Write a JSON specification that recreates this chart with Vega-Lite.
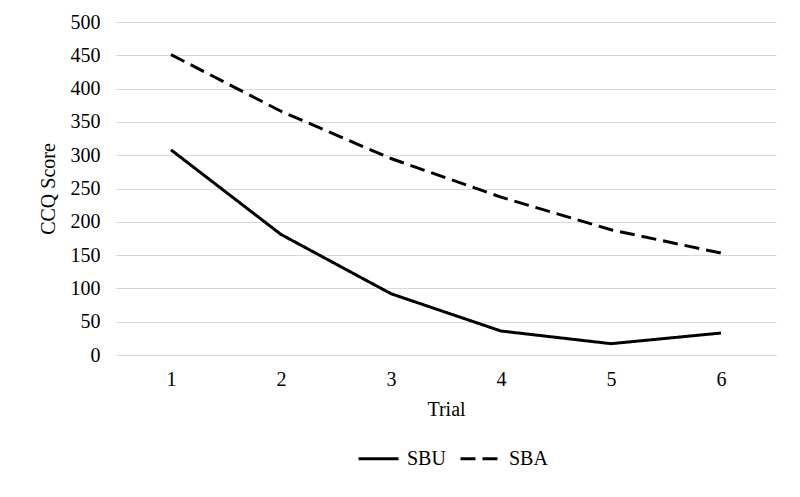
{
  "$schema": "https://vega.github.io/schema/vega-lite/v6.json",
  "width": 660,
  "height": 333,
  "autosize": {"type": "none"},
  "padding": {"left": 116, "top": 22, "right": 24, "bottom": 142},
  "background": "white",
  "data": {
    "values": [
      {"trial": "1", "series": "SBU", "score": 308},
      {"trial": "2", "series": "SBU", "score": 181},
      {"trial": "3", "series": "SBU", "score": 92},
      {"trial": "4", "series": "SBU", "score": 36},
      {"trial": "5", "series": "SBU", "score": 17},
      {"trial": "6", "series": "SBU", "score": 33},
      {"trial": "1", "series": "SBA", "score": 451},
      {"trial": "2", "series": "SBA", "score": 366},
      {"trial": "3", "series": "SBA", "score": 295},
      {"trial": "4", "series": "SBA", "score": 237},
      {"trial": "5", "series": "SBA", "score": 188},
      {"trial": "6", "series": "SBA", "score": 153}
    ]
  },
  "mark": {"type": "line", "color": "black", "strokeWidth": 3},
  "encoding": {
    "x": {
      "field": "trial",
      "type": "ordinal",
      "title": "Trial",
      "scale": {"type": "point", "padding": 0.5},
      "axis": {
        "labelAngle": 0,
        "ticks": false,
        "grid": false,
        "domainColor": "#d9d9d9",
        "domainWidth": 1,
        "labelPadding": 14,
        "titlePadding": 10
      }
    },
    "y": {
      "field": "score",
      "type": "quantitative",
      "title": "CCQ Score",
      "scale": {"domain": [0, 500], "nice": false},
      "axis": {
        "values": [0, 50, 100, 150, 200, 250, 300, 350, 400, 450, 500],
        "ticks": false,
        "domain": false,
        "gridColor": "#d9d9d9",
        "gridWidth": 1,
        "labelPadding": 16,
        "titlePadding": 12
      }
    },
    "strokeDash": {
      "field": "series",
      "type": "nominal",
      "scale": {"domain": ["SBU", "SBA"], "range": [[1, 0], [15, 7]]},
      "legend": {
        "title": null,
        "orient": "none",
        "direction": "horizontal",
        "legendX": 241,
        "legendY": 415,
        "symbolType": "stroke",
        "symbolStrokeWidth": 3,
        "symbolStrokeColor": "black",
        "symbolSize": 1600,
        "labelOffset": 7,
        "columnPadding": 8
      }
    }
  },
  "config": {
    "font": "Times New Roman, Liberation Serif, serif",
    "view": {"stroke": null},
    "axis": {
      "labelFont": "Times New Roman, Liberation Serif, serif",
      "titleFont": "Times New Roman, Liberation Serif, serif",
      "labelFontSize": 20,
      "titleFontSize": 20,
      "titleFontWeight": "normal",
      "labelColor": "black",
      "titleColor": "black"
    },
    "legend": {
      "labelFont": "Times New Roman, Liberation Serif, serif",
      "labelFontSize": 20,
      "labelColor": "black"
    }
  }
}
